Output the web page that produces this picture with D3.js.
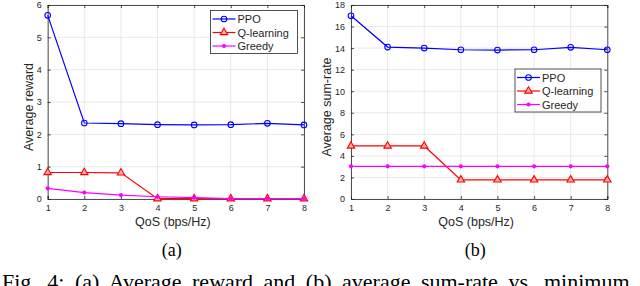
<!DOCTYPE html>
<html>
<head>
<meta charset="utf-8">
<script src="https://cdn.jsdelivr.net/npm/d3@7"></script>
<style>
  body { margin: 0; background: #fff; }
  svg { display: block; }
  .tick text { font-family: "Liberation Sans", Arial, sans-serif; font-size: 9px; fill: #262626; }
  .lbl { font-family: "Liberation Sans", Arial, sans-serif; font-size: 12.5px; fill: #262626; }
  .leg { font-family: "Liberation Sans", Arial, sans-serif; font-size: 11px; fill: #262626; }
  .cap { font-family: "Liberation Serif", "Times New Roman", serif; fill: #000; }
</style>
</head>
<body>
<div id="fig"></div>
<script>
// QoS values on the x axis
var qos = [1, 2, 3, 4, 5, 6, 7, 8];

// (a) average reward
var rewardPPO    = [5.68, 2.35, 2.33, 2.30, 2.29, 2.30, 2.34, 2.29];
var rewardQ      = [0.82, 0.82, 0.81, 0.01, 0.01, 0.01, 0.01, 0.01];
var rewardGreedy = [0.33, 0.20, 0.12, 0.07, 0.04, 0.01, 0.01, 0.01];

// (b) average sum-rate
var ratePPO    = [17.0, 14.1, 14.0, 13.85, 13.82, 13.85, 14.07, 13.85];
var rateQ      = [4.92, 4.92, 4.92, 1.77, 1.77, 1.77, 1.77, 1.77];
var rateGreedy = [3.03, 3.03, 3.03, 3.03, 3.03, 3.03, 3.03, 3.03];

var seriesNames = ["PPO", "Q-learning", "Greedy"];
var colors = ["#0000ff", "#ff0000", "#ff00ff"];

var svg = d3.select("#fig").append("svg")
  .attr("width", 640).attr("height", 286);

function panel(opt) {
  var x = d3.scaleLinear().domain([1, 8]).range([opt.left, opt.right]);
  var y = d3.scaleLinear().domain([0, opt.ymax]).range([199, 5]);
  var g = svg.append("g");

  // grid
  g.selectAll("line.gx").data(qos).enter().append("line")
    .attr("x1", d => x(d)).attr("x2", d => x(d))
    .attr("y1", y(0)).attr("y2", y(opt.ymax))
    .attr("stroke", "#e3e3e3").attr("stroke-width", 0.8);
  g.selectAll("line.gy").data(opt.yticks).enter().append("line")
    .attr("x1", x(1)).attr("x2", x(8))
    .attr("y1", d => y(d)).attr("y2", d => y(d))
    .attr("stroke", "#e3e3e3").attr("stroke-width", 0.8);

  // axes
  var xa = g.append("g").attr("transform", "translate(0," + y(0) + ")")
    .call(d3.axisBottom(x).tickValues(qos).tickSize(-3).tickPadding(6).tickFormat(d3.format("d")));
  var ya = g.append("g").attr("transform", "translate(" + x(1) + ",0)")
    .call(d3.axisLeft(y).tickValues(opt.yticks).tickSize(-3).tickPadding(6).tickFormat(d3.format("d")));
  var xt = g.append("g").attr("transform", "translate(0," + y(opt.ymax) + ")")
    .call(d3.axisTop(x).tickValues(qos).tickSize(-3).tickFormat(""));
  var yr = g.append("g").attr("transform", "translate(" + x(8) + ",0)")
    .call(d3.axisRight(y).tickValues(opt.yticks).tickSize(-3).tickFormat(""));
  [xa, ya, xt, yr].forEach(function(a) {
    a.selectAll("path").attr("stroke", "#262626").attr("stroke-width", 0.8);
    a.selectAll("line").attr("stroke", "#262626").attr("stroke-width", 0.8);
  });

  // lines + markers
  opt.data.forEach(function(vals, i) {
    var pts = qos.map((q, k) => [q, vals[k]]);
    g.append("path").datum(pts)
      .attr("fill", "none").attr("stroke", colors[i]).attr("stroke-width", 1.2)
      .attr("d", d3.line().x(d => x(d[0])).y(d => y(d[1])));
    drawMarkers(g, pts.map(d => [x(d[0]), y(d[1])]), i);
  });

  // labels
  g.append("text").attr("class", "lbl")
    .attr("x", (opt.left + opt.right) / 2 - 3).attr("y", 226)
    .attr("text-anchor", "middle").text("QoS (bps/Hz)");
  g.append("text").attr("class", "lbl")
    .attr("transform", "translate(" + opt.ylabX + ",107) rotate(-90)")
    .attr("text-anchor", "middle").text(opt.ylabel);
  g.append("text").attr("class", "cap")
    .attr("x", (opt.left + opt.right) / 2 - 4).attr("y", 256)
    .attr("text-anchor", "middle").style("font-size", "18px").text(opt.tag);

  // legend
  var L = opt.legend;
  var lg = g.append("g").attr("transform", "translate(" + L.x + "," + L.y + ")");
  lg.append("rect").attr("width", L.w).attr("height", L.h)
    .attr("fill", "#fff").attr("stroke", "#262626").attr("stroke-width", 0.8);
  seriesNames.forEach(function(name, i) {
    var ry = 8.5 + i * 13.5;
    lg.append("line").attr("x1", 2).attr("x2", 25).attr("y1", ry).attr("y2", ry)
      .attr("stroke", colors[i]).attr("stroke-width", 1.2);
    drawMarkers(lg, [[13.5, ry]], i);
    lg.append("text").attr("class", "leg").attr("x", 27).attr("y", ry + 4).text(name);
  });
}

function drawMarkers(g, pts, i) {
  if (i === 0) {
    g.selectAll(null).data(pts).enter().append("circle")
      .attr("cx", d => d[0]).attr("cy", d => d[1]).attr("r", 2.8)
      .attr("fill", "none").attr("stroke", colors[0]).attr("stroke-width", 1.1);
  } else if (i === 1) {
    g.selectAll(null).data(pts).enter().append("path")
      .attr("transform", d => "translate(" + d[0] + "," + d[1] + ")")
      .attr("d", d3.symbol().type(d3.symbolTriangle).size(24))
      .attr("fill", "#ffb0b0").attr("stroke", colors[1]).attr("stroke-width", 1.1);
  } else {
    g.selectAll(null).data(pts).enter().append("circle")
      .attr("cx", d => d[0]).attr("cy", d => d[1]).attr("r", 2.1)
      .attr("fill", colors[2]).attr("stroke", "none");
  }
}

panel({
  left: 47.7, right: 304, ymax: 6, yticks: [0, 1, 2, 3, 4, 5, 6],
  data: [rewardPPO, rewardQ, rewardGreedy],
  ylabel: "Average reward", ylabX: 33, tag: "(a)",
  legend: {x: 210.5, y: 10.5, w: 87, h: 43}
});
panel({
  left: 351, right: 607.3, ymax: 18, yticks: [0, 2, 4, 6, 8, 10, 12, 14, 16, 18],
  data: [ratePPO, rateQ, rateGreedy],
  ylabel: "Average sum-rate", ylabX: 331, tag: "(b)",
  legend: {x: 515, y: 69, w: 86, h: 43}
});

// figure caption, cut off by the bottom and right edges as in the source
svg.append("text").attr("class", "cap")
  .attr("x", 2).attr("y", 289)
  .style("font-size", "22px").style("word-spacing", "5px")
  .text("Fig. 4: (a) Average reward and (b) average sum-rate vs. minimum");
</script>
</body>
</html>
